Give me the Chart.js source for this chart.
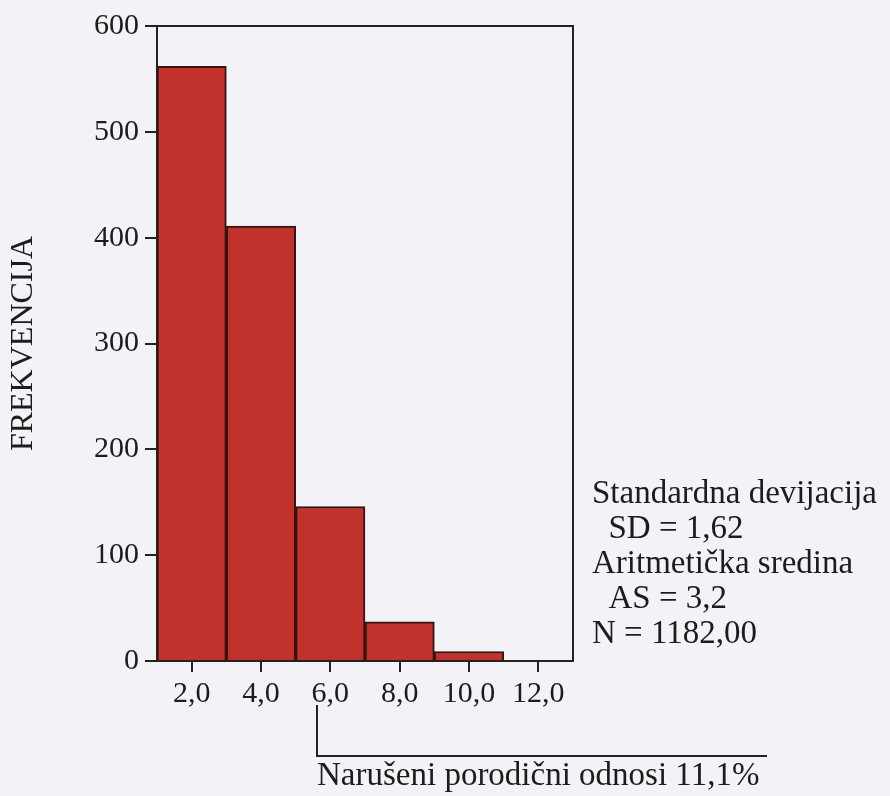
<!DOCTYPE html>
<html>
<head>
<meta charset="utf-8">
<script src="https://cdn.jsdelivr.net/npm/chart.js@4"></script>
<style>
    html, body { margin: 0; padding: 0; background: #f3f2f6; }
    #wrap { position: relative; width: 890px; height: 796px; }
    #wrap canvas { position: absolute; left: 0; top: 0; }
    .note { position: absolute; font-family: "Liberation Serif", serif; font-size: 33px; color: #1c1c1c; white-space: nowrap; line-height: 35px; }
    #bracket { position: absolute; left: 316px; top: 705px; width: 449px; height: 50px; border-left: 2px solid #222; border-bottom: 2px solid #222; }
</style>
</head>
<body>
<div id="wrap">
    <canvas id="histo" width="890" height="796"></canvas>
    <div class="note" style="left:592px; top:475px;">
        Standardna devijacija<br>
        &nbsp;&nbsp;SD = 1,62<br>
        Aritmetička sredina<br>
        &nbsp;&nbsp;AS = 3,2<br>
        N = 1182,00
    </div>
    <div id="bracket"></div>
    <div class="note" style="left:317px; top:757px;">Narušeni porodični odnosi 11,1%</div>
</div>
<script>
    // ---------------- data ----------------
    var binCenters = [2, 4, 6, 8, 10];
    var frequencies = [562, 411, 146, 37, 9];
    var xTickValues = [2, 4, 6, 8, 10, 12];
    var yTickValues = [0, 100, 200, 300, 400, 500, 600];

    var serif = "'Liberation Serif', serif";
    var ink = '#222';

    // top + right border of the plot box
    var frameBox = {
        id: 'frameBox',
        afterDraw: function (chart) {
            var a = chart.chartArea, ctx = chart.ctx;
            ctx.save();
            ctx.strokeStyle = ink;
            ctx.lineWidth = 2;
            ctx.beginPath();
            ctx.moveTo(a.left, a.top);
            ctx.lineTo(a.right, a.top);
            ctx.lineTo(a.right, a.bottom);
            ctx.stroke();
            ctx.restore();
        }
    };

    new Chart(document.getElementById('histo'), {
        type: 'bar',
        data: {
            datasets: [{
                data: binCenters.map(function (x, i) { return { x: x, y: frequencies[i] }; }),
                backgroundColor: '#c0322b',
                borderColor: '#351412',
                borderWidth: 2,
                barPercentage: 1,
                categoryPercentage: 1
            }]
        },
        options: {
            responsive: false,
            animation: false,
            layout: { padding: { top: 26, right: 317, bottom: 0, left: 0 } },
            plugins: { legend: { display: false }, tooltip: { enabled: false } },
            scales: {
                x: {
                    type: 'linear',
                    min: 1,
                    max: 13,
                    offset: false,
                    afterBuildTicks: function (scale) {
                        scale.ticks = xTickValues.map(function (v) { return { value: v }; });
                    },
                    afterFit: function (scale) { scale.height = 135; },
                    grid: { offset: false, drawOnChartArea: false, drawTicks: true, tickLength: 11, color: ink, lineWidth: 2 },
                    border: { display: true, color: ink, width: 2 },
                    ticks: {
                        autoSkip: false,
                        maxRotation: 0,
                        padding: 4,
                        color: '#1c1c1c',
                        font: { family: serif, size: 30 },
                        callback: function (v) { return v.toFixed(1).replace('.', ','); }
                    }
                },
                y: {
                    min: 0,
                    max: 600,
                    afterBuildTicks: function (scale) {
                        scale.ticks = yTickValues.map(function (v) { return { value: v }; });
                    },
                    afterFit: function (scale) { scale.width = 157; },
                    grid: { drawOnChartArea: false, drawTicks: true, tickLength: 12, color: ink, lineWidth: 2 },
                    border: { display: true, color: ink, width: 2 },
                    ticks: {
                        padding: 6,
                        color: '#1c1c1c',
                        font: { family: serif, size: 30 }
                    },
                    title: {
                        display: true,
                        text: 'FREKVENCIJA',
                        color: '#1c1c1c',
                        font: { family: serif, size: 32 },
                        padding: { top: 4, bottom: 0 }
                    }
                }
            }
        },
        plugins: [frameBox]
    });
</script>
</body>
</html>
